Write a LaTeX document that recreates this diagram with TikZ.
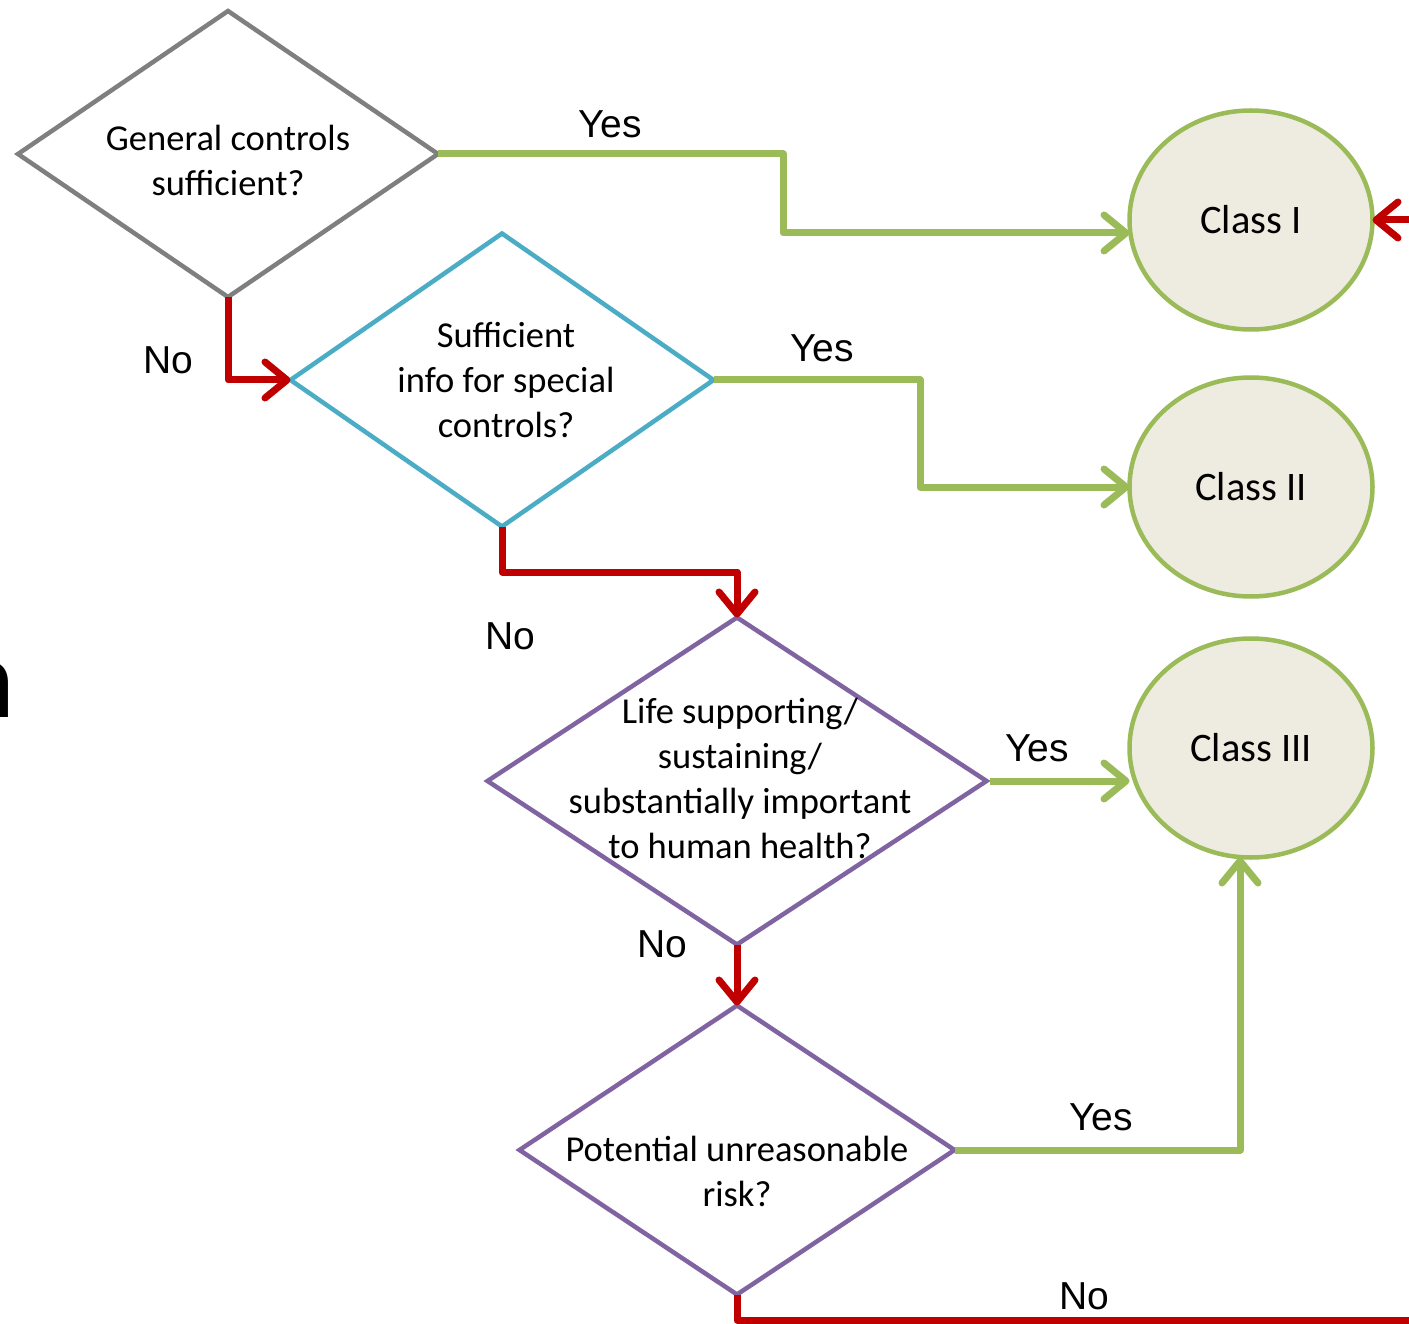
\documentclass[tikz,border=0pt]{standalone}
\usepackage{fontspec}
\setmainfont{Carlito}
\newfontfamily\lblfont{Liberation Sans}
\usetikzlibrary{shapes.geometric,arrows.meta}
\definecolor{cgreen}{HTML}{9BBB59}
\definecolor{cred}{HTML}{C00000}
\definecolor{cgray}{HTML}{7F7F7F}
\definecolor{cblue}{HTML}{4BACC6}
\definecolor{cpurple}{HTML}{8064A2}
\definecolor{cfill}{HTML}{EEECE1}
\tikzset{
  dec/.style={diamond, draw, line width=4.5pt, inner sep=0pt, outer sep=0pt},
  dectext/.style={align=center, inner sep=0pt, font=\fontsize{36.5}{45}\selectfont},
  cls/.style={ellipse, draw=cgreen, fill=cfill, line width=4.5pt,
    minimum width=243pt, minimum height=219pt, inner sep=0pt, outer sep=0pt,
    font=\fontsize{40.5}{48}\selectfont},
  yesarrow/.style={draw=cgreen, line width=7pt, line join=round,
    -{Straight Barb[round,length=22pt,width=36pt]}},
  noarrow/.style={draw=cred, line width=7pt, line join=round,
    -{Straight Barb[round,length=22pt,width=36pt]}},
  noline/.style={draw=cred, line width=7pt, line join=round},
  lbl/.style={font=\lblfont\fontsize{39}{46}\selectfont, inner sep=0pt},
}
\begin{document}
\begin{tikzpicture}[x=1pt,y=-1pt]
\useasboundingbox (0,0) rectangle (1409,1324);
% cropped letter at left edge
\begin{scope}
\clip (0,0) rectangle (1409,1324);
\node[anchor=south east, inner sep=0pt, font=\fontsize{114}{120}\selectfont] (cut) at (16,718) {n};
\end{scope}
% decisions
\node[dec, draw=cgray, minimum width=420pt, minimum height=286pt] (d1) at (228,154) {};
\node[dectext] (t1) at (228,160) {General controls\\sufficient?};
\node[dec, draw=cblue, minimum width=423pt, minimum height=293pt] (d2) at (502,380) {};
\node[dectext] (t2) at (506,380) {Sufficient\\info for special\\controls?};
\node[dec, draw=cpurple, minimum width=499pt, minimum height=327pt] (d3) at (737,781) {};
\node[dectext] (t3) at (740,778) {Life supporting/\\sustaining/\\substantially important\\to human health?};
\node[dec, draw=cpurple, minimum width=435pt, minimum height=289pt] (d4) at (737,1150) {};
\node[dectext] (t4) at (737,1171) {Potential unreasonable\\risk?};
% classes
\node[cls] (c1) at (1251,220) {Class I};
\node[cls] (c2) at (1251,487) {Class II};
\node[cls] (c3) at (1251,748) {Class III};
% connector helper points
\coordinate (e1) at (1409,220);
\coordinate (e2) at (1409,1320);
% yes connectors
\draw[yesarrow] (d1.east) -- (783,154) -- (783,233) -- (c1.west |- 0,233);
\draw[yesarrow] (d2.east) -- (920,380) -- (920,487) -- (c2.west);
\draw[yesarrow] ([xshift=3pt]d3.east) -- (c3.west |- d3.east);
\draw[yesarrow] (d4.east) -- (1240,1150) -- (c3.south -| 1240,0);
% no connectors
\draw[noarrow] (d1.south) -- (228,380) -- (d2.west);
\draw[noarrow] (d2.south) -- (502,572) -- (737,572) -- (d3.north);
\draw[noarrow] (d3.south) -- (d4.north);
\draw[noline] (d4.south) -- (737,1320) -- (e2);
\draw[noarrow] (e1) -- (c1.east);
% labels
\node[lbl] (y1) at (610,124) {Yes};
\node[lbl] (y2) at (822,348) {Yes};
\node[lbl] (y3) at (1037,748) {Yes};
\node[lbl] (y4) at (1101,1117) {Yes};
\node[lbl] (n1) at (168,360) {No};
\node[lbl] (n2) at (510,636) {No};
\node[lbl] (n3) at (662,944) {No};
\node[lbl] (n4) at (1084,1296) {No};
\end{tikzpicture}
\end{document}
